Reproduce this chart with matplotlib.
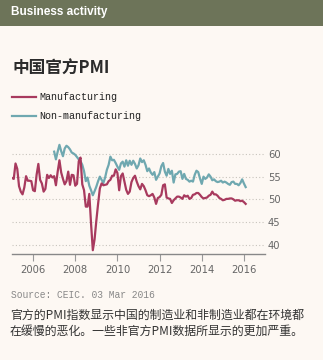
import numpy as np
import matplotlib
matplotlib.use("Agg")
import matplotlib.pyplot as plt
from matplotlib.patches import Rectangle

# monthly PMI readings
mfg_start = 2005  # Jan 2005
manufacturing = [
    54.7, 54.5, 57.9, 56.7, 52.9, 51.7, 51.1, 52.6, 55.1, 54.1, 54.1, 54.0,  # 2005
    52.0, 51.8, 55.4, 57.8, 54.3, 53.5, 51.7, 52.3, 55.4, 54.7, 55.3, 54.8,  # 2006
    55.1, 53.1, 56.1, 58.6, 55.9, 54.5, 53.3, 54.0, 56.1, 53.2, 55.4, 55.3,  # 2007
    53.0, 53.4, 58.4, 59.2, 53.3, 52.0, 48.4, 48.4, 51.2, 44.6, 38.8, 41.2,  # 2008
    45.3, 49.0, 52.4, 53.5, 53.1, 53.2, 53.3, 54.0, 54.3, 55.2, 55.2, 56.6,  # 2009
    55.8, 52.0, 55.1, 55.7, 53.9, 52.1, 51.2, 51.7, 53.8, 54.7, 55.2, 53.9,  # 2010
    52.9, 52.2, 53.4, 52.9, 52.0, 50.9, 50.7, 50.9, 51.2, 50.4, 49.0, 50.3,  # 2011
    50.5, 51.0, 53.1, 53.3, 50.4, 50.2, 50.1, 49.2, 49.8, 50.2, 50.6, 50.6,  # 2012
    50.4, 50.1, 50.9, 50.6, 50.8, 50.1, 50.3, 51.0, 51.1, 51.4, 51.4, 51.0,  # 2013
    50.5, 50.2, 50.3, 50.4, 50.8, 51.0, 51.7, 51.1, 51.1, 50.8, 50.3, 50.1,  # 2014
    49.8, 49.9, 50.1, 50.1, 50.2, 50.2, 50.0, 49.7, 49.8, 49.8, 49.6, 49.7,  # 2015
    49.4, 49.0,                                                              # 2016
]

nonmfg_start = 2007  # Jan 2007
non_manufacturing = [
    60.5, 58.8, 60.5, 62.0, 60.6, 59.5, 61.2, 61.8, 61.5, 61.0, 60.3, 60.1,  # 2007
    59.8, 59.3, 58.8, 58.4, 57.6, 56.2, 54.0, 54.8, 53.0, 52.0, 50.9, 51.8,  # 2008
    52.8, 54.0, 55.0, 54.3, 53.6, 54.8, 56.5, 57.6, 59.4, 58.6, 58.7, 58.0,  # 2009
    57.2, 56.5, 57.9, 58.3, 57.2, 58.6, 57.4, 58.5, 57.6, 58.5, 57.8, 56.8,  # 2010
    57.5, 59.0, 58.2, 58.6, 57.6, 56.2, 56.8, 55.9, 55.4, 56.0, 54.3, 55.0,  # 2011
    55.7, 57.3, 58.0, 56.1, 55.2, 56.7, 55.6, 56.3, 53.7, 55.5, 55.6, 56.1,  # 2012
    56.2, 54.5, 55.6, 54.5, 54.3, 53.9, 54.1, 53.9, 55.4, 56.3, 56.0, 54.6,  # 2013
    53.4, 55.0, 54.5, 54.8, 55.5, 55.0, 54.2, 54.4, 54.0, 53.8, 53.9, 54.1,  # 2014
    53.7, 53.9, 53.7, 53.4, 53.2, 53.8, 53.9, 53.4, 53.4, 53.1, 53.6, 54.4,  # 2015
    53.5, 52.7,                                                              # 2016
]

year_ticks = [2006, 2008, 2010, 2012, 2014, 2016]
pmi_ticks = [40, 45, 50, 55, 60]

bg = "#fdf8f3"
red = "#a83a5e"
teal = "#6fa8b0"
W, H = 323, 360

fig = plt.figure(figsize=(W / 100, H / 100), dpi=100, facecolor=bg)

# header band
fig.patches.append(Rectangle((0, 1 - 26 / H), 1, 26 / H, transform=fig.transFigure,
                             facecolor="#6d7459", edgecolor="none"))
fig.text(11 / W, 1 - 12 / H, "Business activity", color="white", fontsize=8.5,
         fontweight="bold", family="Liberation Sans", va="center", ha="left")

fig.text(13 / W, 1 - 69 / H, "中国官方PMI", fontsize=12, fontweight="bold",
         family=["Noto Sans CJK SC", "DejaVu Sans"], color="#2b2b2b", va="center")

# legend
mono = "Liberation Mono"
for yy, col, lab in [(97, red, "Manufacturing"), (116, teal, "Non-manufacturing")]:
    fig.lines.append(plt.Line2D([12 / W, 36 / W], [1 - yy / H, 1 - yy / H],
                                transform=fig.transFigure, color=col, lw=1.6))
    fig.text(39 / W, 1 - yy / H, lab, fontsize=7.2, family=mono, color="#222",
             va="center", ha="left")

ax = fig.add_axes([12 / W, 105.7 / H, 253 / W, 114 / H])
ax.set_facecolor(bg)

x_mfg = mfg_start + np.arange(len(manufacturing)) / 12
x_non = nonmfg_start + np.arange(len(non_manufacturing)) / 12
ax.plot(x_non, non_manufacturing, color=teal, lw=1.6, solid_joinstyle="round")
ax.plot(x_mfg, manufacturing, color=red, lw=1.6, solid_joinstyle="round")

ax.set_xlim(2005, 2017)
ax.set_ylim(37.9, 63)

for v in pmi_ticks:
    ax.axhline(v, color="#c8c4bd", lw=0.8, ls=(0, (1, 2)), zorder=0)

ax.yaxis.tick_right()
ax.set_yticks(pmi_ticks)
ax.tick_params(axis="y", length=0, pad=2, labelsize=7.2, labelcolor="#666")
ax.set_xticks(year_ticks)
ax.tick_params(axis="x", length=5, width=0.8, color="#999", pad=3,
               labelsize=7.2, labelcolor="#666")

for s in ["top", "right", "left"]:
    ax.spines[s].set_visible(False)
ax.spines["bottom"].set_color("#888")
ax.spines["bottom"].set_linewidth(1)

fig.text(11 / W, 1 - 295 / H, "Source: CEIC. 03 Mar 2016", fontsize=6.9,
         family=mono, color="#888", va="center")

cjk = ["Noto Sans CJK SC", "DejaVu Sans"]
fig.text(10 / W, 1 - 315 / H, "官方的PMI指数显示中国的制造业和非制造业都在环境都",
         fontsize=8.6, family=cjk, color="#333", va="center")
fig.text(10 / W, 1 - 331 / H, "在缓慢的恶化。一些非官方PMI数据所显示的更加严重。",
         fontsize=8.6, family=cjk, color="#333", va="center")

fig.savefig("out.png", dpi=100, facecolor=bg)
